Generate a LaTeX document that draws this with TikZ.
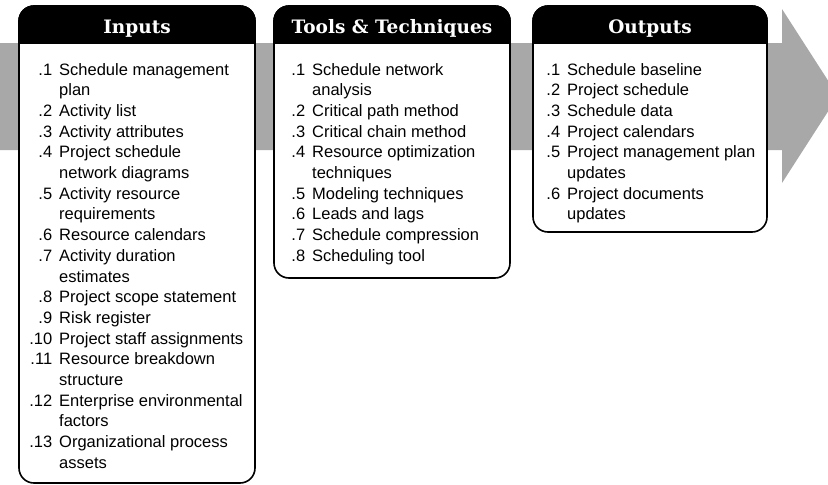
\documentclass[tikz,border=0pt]{standalone}
\usepackage{fontspec}
\setmainfont{Liberation Sans}
\newfontfamily\slabfont{DejaVu Serif}
\definecolor{bandgray}{RGB}{168,168,168}
\newcommand{\num}[1]{\llap{#1\hspace{7pt}}}

\begin{document}
\begin{tikzpicture}[x=1pt,y=-1pt,
  procbox/.style={draw=black, line width=1.6pt, fill=white, rounded corners=15pt},
  headbar/.style={draw=black, fill=black, line width=1.6pt},
  headtext/.style={anchor=base, text=white, font=\slabfont\bfseries\fontsize{18.5}{22}\selectfont},
  itemlist/.style={anchor=base west, inner sep=0pt, font=\fontsize{16.5}{20.7}\selectfont}]
  \useasboundingbox (0,0) rectangle (828,485);
  \clip (0,0) rectangle (828,485);

  % arrow band behind the boxes
  \fill[bandgray] (0,43) -- (782,43) -- (782,9) -- (838,96) -- (782,183) -- (782,150) -- (0,150) -- cycle;

  % boxes with black headers
  \foreach \name/\xl/\xr/\yb/\title in {
    inputs/19/255/483/Inputs,
    tools/274/510/278/Tools \& Techniques,
    outputs/533/767/232/Outputs
  }{
    \draw[procbox] (\xl,6) rectangle (\xr,\yb);
    \path[headbar] (\xl,43) [rounded corners=15pt] -- (\xl,6) -- (\xr,6) [sharp corners] -- (\xr,43) -- cycle;
    \node[headtext] (\name-head) at ({(\xl+\xr)/2},33.5) {\title};
  }

  \node[itemlist] (inputs-list) at (59,75) {\begin{tabular}[t]{@{}l@{}}
    \num{.1}Schedule management\\
    plan\\
    \num{.2}Activity list\\
    \num{.3}Activity attributes\\
    \num{.4}Project schedule\\
    network diagrams\\
    \num{.5}Activity resource\\
    requirements\\
    \num{.6}Resource calendars\\
    \num{.7}Activity duration\\
    estimates\\
    \num{.8}Project scope statement\\
    \num{.9}Risk register\\
    \num{.10}Project staff assignments\\
    \num{.11}Resource breakdown\\
    structure\\
    \num{.12}Enterprise environmental\\
    factors\\
    \num{.13}Organizational process\\
    assets
  \end{tabular}};

  \node[itemlist] (tools-list) at (312,75) {\begin{tabular}[t]{@{}l@{}}
    \num{.1}Schedule network\\
    analysis\\
    \num{.2}Critical path method\\
    \num{.3}Critical chain method\\
    \num{.4}Resource optimization\\
    techniques\\
    \num{.5}Modeling techniques\\
    \num{.6}Leads and lags\\
    \num{.7}Schedule compression\\
    \num{.8}Scheduling tool
  \end{tabular}};

  \node[itemlist] (outputs-list) at (567,75) {\begin{tabular}[t]{@{}l@{}}
    \num{.1}Schedule baseline\\
    \num{.2}Project schedule\\
    \num{.3}Schedule data\\
    \num{.4}Project calendars\\
    \num{.5}Project management plan\\
    updates\\
    \num{.6}Project documents\\
    updates
  \end{tabular}};
\end{tikzpicture}
\end{document}
